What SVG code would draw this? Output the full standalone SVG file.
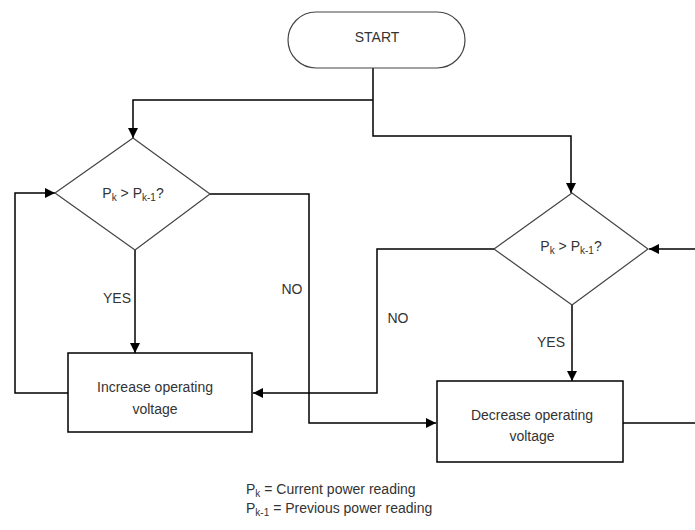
<svg xmlns="http://www.w3.org/2000/svg" width="695" height="530" viewBox="0 0 695 530">
<defs>
<marker id="arr" viewBox="0 0 10 10" refX="10" refY="5" markerWidth="10" markerHeight="10" markerUnits="userSpaceOnUse" orient="auto">
<path d="M0,0 L10,5 L0,10 Z" fill="#000"/>
</marker>
</defs>
<style>
.shape{fill:#fff;stroke:#444;stroke-width:1.2}
.box{fill:#fff;stroke:#000;stroke-width:1.5}
.line{fill:none;stroke:#000;stroke-width:1.5}
text{font-family:"Liberation Sans",Arial,sans-serif;font-size:14px;fill:#333}
.c{text-anchor:middle}
.sub{font-size:10px}
</style>
<rect width="695" height="530" fill="#fff"/>
<g id="connectors">
<path class="line" d="M373,68 V136 H571 V193" marker-end="url(#arr)"/>
<path class="line" d="M373,100 H133 V138" marker-end="url(#arr)"/>
<path class="line" d="M210,194 H309 V423 H436" marker-end="url(#arr)"/>
<path class="line" d="M135,250 V353" marker-end="url(#arr)"/>
<path class="line" d="M68,393 H15 V193 H55" marker-end="url(#arr)"/>
<path class="line" d="M494,249 H377 V393 H253" marker-end="url(#arr)"/>
<path class="line" d="M572,305 V381" marker-end="url(#arr)"/>
<path class="line" d="M695,249 H649" marker-end="url(#arr)"/>
<path class="line" d="M623,423 H695"/>
<text x="292" y="294" class="c">NO</text>
<text x="117" y="303" class="c">YES</text>
<text x="398" y="323" class="c">NO</text>
<text x="551" y="347" class="c">YES</text>
</g>
<g id="start">
<rect class="shape" x="288" y="12" width="177" height="56" rx="28" ry="28"/>
<text x="377" y="42" class="c">START</text>
</g>
<g id="decision1">
<polygon class="shape" points="133,138 210,194 135,250 55,193"/>
<text x="133" y="198" class="c">P<tspan class="sub" dy="3">k</tspan><tspan dy="-3"> &gt; P</tspan><tspan class="sub" dy="3">k-1</tspan><tspan dy="-3">?</tspan></text>
</g>
<g id="decision2">
<polygon class="shape" points="572,193 648,249 572,305 494,249"/>
<text x="571" y="251" class="c">P<tspan class="sub" dy="3">k</tspan><tspan dy="-3"> &gt; P</tspan><tspan class="sub" dy="3">k-1</tspan><tspan dy="-3">?</tspan></text>
</g>
<g id="increase">
<rect class="box" x="68" y="353" width="184" height="79"/>
<text x="155" y="392" class="c">Increase operating</text>
<text x="155" y="414" class="c">voltage</text>
</g>
<g id="decrease">
<rect class="box" x="437" y="381" width="186" height="81"/>
<text x="532" y="420" class="c">Decrease operating</text>
<text x="532" y="441" class="c">voltage</text>
</g>
<g id="legend">
<text x="246" y="494">P<tspan class="sub" dy="3">k</tspan><tspan dy="-3"> = Current power reading</tspan></text>
<text x="246" y="513">P<tspan class="sub" dy="3">k-1</tspan><tspan dy="-3"> = Previous power reading</tspan></text>
</g>
</svg>
